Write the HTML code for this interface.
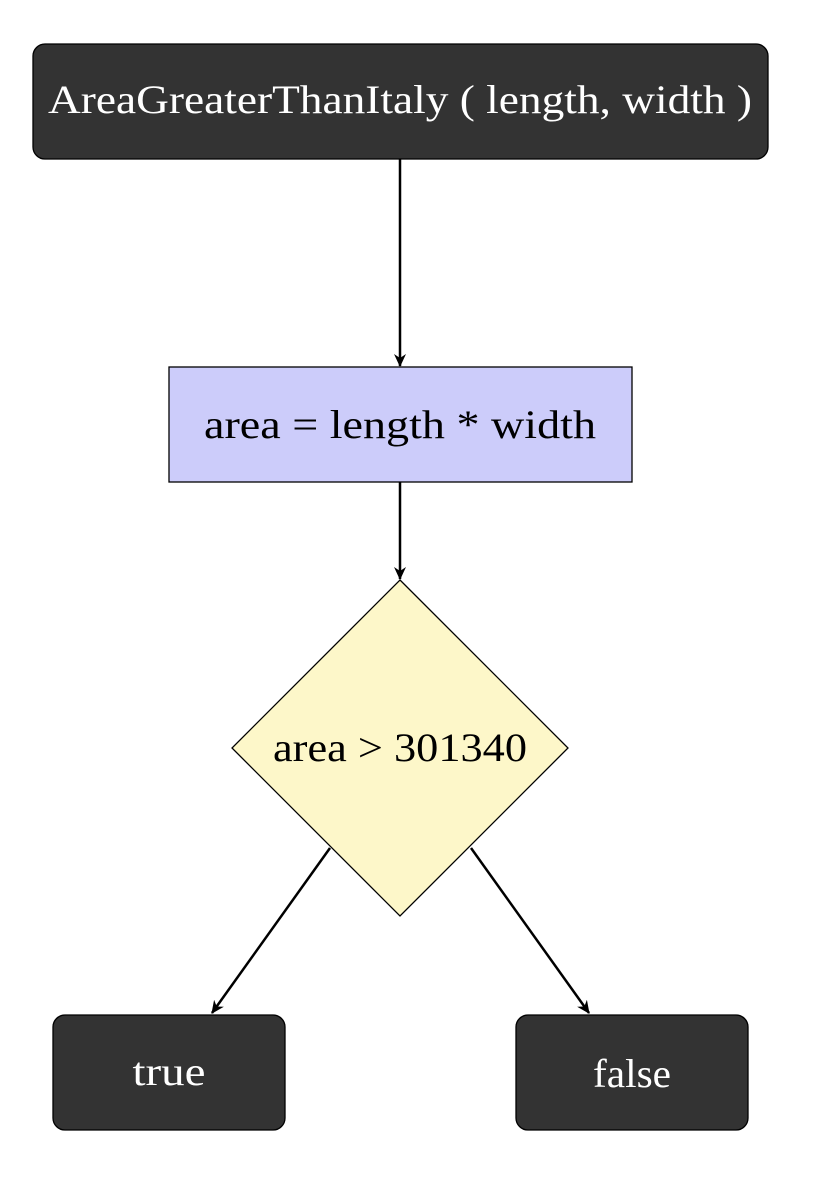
<!DOCTYPE html>
<html><head><meta charset="utf-8"><style>html,body{margin:0;padding:0;background:#fff}</style></head>
<body>
<svg width="818" height="1178" viewBox="0 0 818 1178" xmlns="http://www.w3.org/2000/svg" font-family="'Liberation Serif', serif">
<defs>
<marker id="a" markerWidth="14" markerHeight="14" refX="12" refY="7" orient="auto" markerUnits="userSpaceOnUse">
<path d="M0,1 L13,7 L0,13 L4,7 Z" fill="#000"/>
</marker>
</defs>
<rect x="33" y="44" width="735" height="115" rx="12" fill="#333" stroke="#000" stroke-width="1.3"/>
<text x="400" y="113" font-size="40" fill="#fff" text-anchor="middle" textLength="704" lengthAdjust="spacingAndGlyphs">AreaGreaterThanItaly ( length, width )</text>
<line x1="400" y1="159" x2="400" y2="366" stroke="#000" stroke-width="2.5" marker-end="url(#a)"/>
<rect x="169" y="367" width="463" height="115" fill="#ccccfa" stroke="#000" stroke-width="1.3"/>
<text x="400" y="438" font-size="40" fill="#000" text-anchor="middle" textLength="392" lengthAdjust="spacingAndGlyphs">area = length * width</text>
<line x1="400" y1="482" x2="400" y2="579" stroke="#000" stroke-width="2.5" marker-end="url(#a)"/>
<polygon points="400,580 568,748 400,916 232,748" fill="#fdf7c9" stroke="#000" stroke-width="1.3"/>
<text x="400" y="761" font-size="40" fill="#000" text-anchor="middle" textLength="254" lengthAdjust="spacingAndGlyphs">area &gt; 301340</text>
<line x1="330" y1="848" x2="212" y2="1013" stroke="#000" stroke-width="2.5" marker-end="url(#a)"/>
<line x1="471" y1="848" x2="589" y2="1013" stroke="#000" stroke-width="2.5" marker-end="url(#a)"/>
<rect x="53" y="1015" width="232" height="115" rx="12" fill="#333" stroke="#000" stroke-width="1.3"/>
<text x="169" y="1085" font-size="40" fill="#fff" text-anchor="middle" textLength="73" lengthAdjust="spacingAndGlyphs">true</text>
<rect x="516" y="1015" width="232" height="115" rx="12" fill="#333" stroke="#000" stroke-width="1.3"/>
<text x="632" y="1087" font-size="40" fill="#fff" text-anchor="middle" textLength="78" lengthAdjust="spacingAndGlyphs">false</text>
</svg>
</body></html>
